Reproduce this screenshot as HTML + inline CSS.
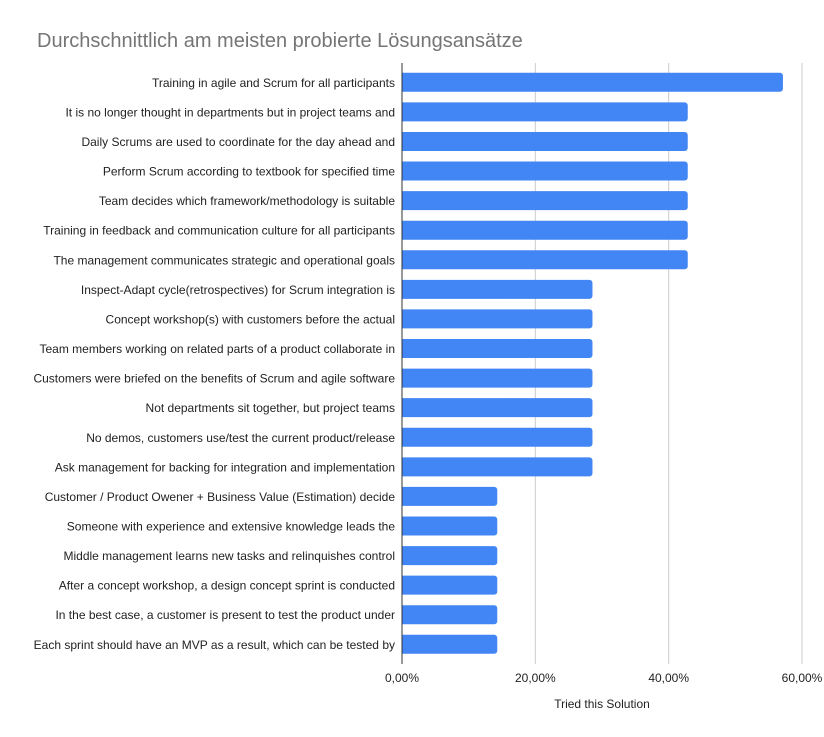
<!DOCTYPE html>
<html><head><meta charset="utf-8"><style>
body{margin:0;background:#fff;}
svg{display:block;font-family:"Liberation Sans",Arial,sans-serif;}
</style></head><body>
<svg id="c" width="824" height="737">
<text x="37" y="47" font-size="20" fill="#757575">Durchschnittlich am meisten probierte Lösungsansätze</text>
<g id="grid"></g><g id="bars"></g><g id="ylabels"></g><g id="xticks"></g><g id="axis"></g>
<text x="602" y="708" font-size="12" fill="#222" text-anchor="middle">Tried this Solution</text>
</svg>
<script>
const categories=["Training in agile and Scrum for all participants","It is no longer thought in departments but in project teams and","Daily Scrums are used to coordinate for the day ahead and","Perform Scrum according to textbook for specified time","Team decides which framework/methodology is suitable","Training in feedback and communication culture for all participants","The management communicates strategic and operational goals","Inspect-Adapt cycle(retrospectives) for Scrum integration is","Concept workshop(s) with customers before the actual","Team members working on related parts of a product collaborate in","Customers were briefed on the benefits of Scrum and agile software","Not departments sit together, but project teams","No demos, customers use/test the current product/release","Ask management for backing for integration and implementation","Customer / Product Owener + Business Value (Estimation) decide","Someone with experience and extensive knowledge leads the","Middle management learns new tasks and relinquishes control","After a concept workshop, a design concept sprint is conducted","In the best case, a customer is present to test the product under","Each sprint should have an MVP as a result, which can be tested by"];
const values=[57.14,42.86,42.86,42.86,42.86,42.86,42.86,28.57,28.57,28.57,28.57,28.57,28.57,28.57,14.29,14.29,14.29,14.29,14.29,14.29];
const ticks=[0,20,40,60];
const tickLabels=["0,00%","20,00%","40,00%","60,00%"];
const NS="http://www.w3.org/2000/svg";
const x0=402,x1=802,xmax=60,top0=67.5,step=29.58,bh=19;
const xs=v=>x0+(v/xmax)*(x1-x0);
const yc=i=>top0+step*(i+0.5);
function mk(t,a,p){const e=document.createElementNS(NS,t);for(const k in a)e.setAttribute(k,a[k]);p.appendChild(e);return e;}
const G=document.getElementById('grid'),B=document.getElementById('bars'),Y=document.getElementById('ylabels'),X=document.getElementById('xticks'),A=document.getElementById('axis');
ticks.forEach((t,i)=>{
 if(i>0){
 const l=mk('line',{x1:xs(t),x2:xs(t),y1:63,y2:664,stroke:'#ccc','stroke-width':1},G);
 
 
 }
 const tx=mk('text',{x:xs(t),y:682,'font-size':12,fill:'#222','text-anchor':'middle'},X);
 tx.textContent=tickLabels[i];
 
 
});
categories.forEach((c,i)=>{
 const w=xs(values[i])-x0;
 const r=mk('path',{d:`M${x0},${yc(i)-bh/2}h${w-3}a3,3 0 0 1 3,3v${bh-6}a3,3 0 0 1 -3,3h${-(w-3)}z`,fill:'#4285f4'},B);
 
 
 const t=mk('text',{x:395,y:yc(i)+4.5,'font-size':12,fill:'#222','text-anchor':'end'},Y);
 t.textContent=c;
 
 
});
const zl=mk('line',{x1:x0,x2:x0,y1:63,y2:664,stroke:'#333','stroke-width':1},A);


</script>
</body></html>
